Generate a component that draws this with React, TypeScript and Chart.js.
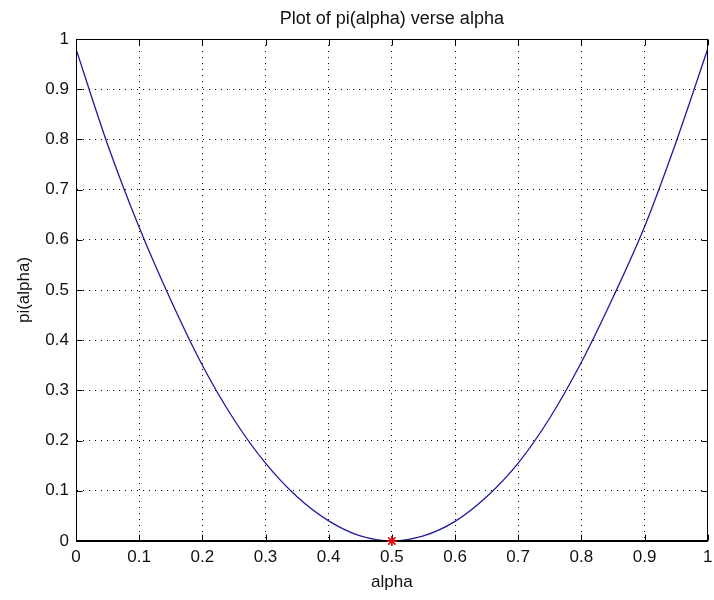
import { useEffect, useRef } from "react";
import { Chart, registerables } from "chart.js";

Chart.register(...registerables);

const TITLE = "Plot of pi(alpha) verse alpha";
const X_LABEL = "alpha";
const Y_LABEL = "pi(alpha)";

const alphaValues = [
  0, 0.05, 0.1, 0.15, 0.2, 0.25, 0.3, 0.35, 0.4, 0.45, 0.5,
  0.55, 0.6, 0.65, 0.7, 0.75, 0.8, 0.85, 0.9, 0.95, 1,
];
const piValues = [
  0.98, 0.79, 0.625, 0.48, 0.35, 0.242, 0.155, 0.088, 0.04, 0.01, 0,
  0.01, 0.039, 0.088, 0.155, 0.245, 0.356, 0.485, 0.626, 0.795, 0.98,
];
const minAlpha = [0.5];
const minPi = [0];

const FONT = '"Liberation Sans", Arial, sans-serif';

const fmt = (v: any) => {
  const n = Number(Number(v).toFixed(1));
  return String(n);
};

const matlabBox = {
  id: "matlabBox",
  afterDraw(chart: any) {
    const { ctx, chartArea } = chart;
    const { left, right, top, bottom } = chartArea;
    const xs = chart.scales.x;
    const ys = chart.scales.y;
    ctx.save();
    ctx.strokeStyle = "#000";
    ctx.lineWidth = 1;
    ctx.setLineDash([]);
    const L = Math.round(left) + 0.5;
    const R = Math.round(right) - 0.5;
    const T = Math.round(top) + 0.5;
    const B = Math.round(bottom) - 0.5;
    ctx.strokeRect(L, T, R - L, B - T);
    const tl = 6;
    ctx.beginPath();
    xs.ticks.forEach((t: any) => {
      const px = Math.round(xs.getPixelForValue(t.value)) + 0.5;
      ctx.moveTo(px, B);
      ctx.lineTo(px, B - tl);
      ctx.moveTo(px, T);
      ctx.lineTo(px, T + tl);
    });
    ys.ticks.forEach((t: any) => {
      const py = Math.round(ys.getPixelForValue(t.value)) + 0.5;
      ctx.moveTo(L, py);
      ctx.lineTo(L + tl, py);
      ctx.moveTo(R, py);
      ctx.lineTo(R - tl, py);
    });
    ctx.stroke();
    // re-draw the minimum marker on top of the axes box
    const meta = chart.getDatasetMeta(0);
    meta.data.forEach((pt: any) => pt.draw(ctx));
    ctx.fillStyle = "#111";
    ctx.font = `18px ${FONT}`;
    ctx.textAlign = "center";
    ctx.textBaseline = "middle";
    ctx.fillText(TITLE, (left + right) / 2, 19);
    ctx.restore();
  },
};

export default function App() {
  const ref = useRef<HTMLCanvasElement | null>(null);
  useEffect(() => {
    if (!ref.current) return;
    const curve = alphaValues.map((a, i) => ({ x: a, y: piValues[i] }));
    const star = minAlpha.map((a, i) => ({ x: a, y: minPi[i] }));
    const chart = new Chart(ref.current, {
      type: "scatter",
      data: {
        datasets: [
          {
            data: star,
            pointStyle: "star",
            pointRadius: 5,
            pointBorderColor: "#e01010",
            pointBackgroundColor: "#e01010",
            pointBorderWidth: 1.3,
            showLine: false,
            clip: false,
          },
          {
            data: curve,
            showLine: true,
            borderColor: "#1c1ca0",
            borderWidth: 1.3,
            pointRadius: 0,
            cubicInterpolationMode: "monotone",
            fill: false,
          },
        ],
      },
      options: {
        animation: false,
        responsive: true,
        maintainAspectRatio: false,
        layout: { padding: { top: 39, right: 2, left: 0, bottom: 0 } },
        plugins: {
          legend: { display: false },
          title: { display: false },
          tooltip: { enabled: false },
        },
        scales: {
          x: {
            type: "linear",
            min: 0,
            max: 1,
            ticks: {
              stepSize: 0.1,
              padding: 6,
              color: "#111",
              font: { family: FONT, size: 17 },
              maxRotation: 0,
              callback: fmt,
            },
            grid: { color: "#000", lineWidth: 1, drawTicks: false },
            border: { display: true, color: "#000", width: 1, dash: [1, 5] },
            title: {
              display: true,
              text: X_LABEL,
              color: "#111",
              font: { family: FONT, size: 17 },
              padding: { top: 0, bottom: 7 },
            },
            afterFit(scale: any) {
              scale.height = 59;
              scale.paddingLeft = 0;
              scale.paddingRight = 0;
            },
          },
          y: {
            type: "linear",
            min: 0,
            max: 1,
            ticks: {
              stepSize: 0.1,
              padding: 7,
              color: "#111",
              font: { family: FONT, size: 17 },
              callback: fmt,
            },
            grid: { color: "#000", lineWidth: 1, drawTicks: false },
            border: { display: true, color: "#000", width: 1, dash: [1, 5] },
            title: {
              display: true,
              text: Y_LABEL,
              color: "#111",
              font: { family: FONT, size: 17 },
              padding: { top: 14, bottom: 0 },
            },
            afterFit(scale: any) {
              scale.width = 76;
              scale.paddingTop = 0;
              scale.paddingBottom = 0;
            },
          },
        },
      },
      plugins: [matlabBox],
    });
    return () => chart.destroy();
  }, []);
  return (
    <div style={{ position: "fixed", left: 0, top: 0, width: 714, height: 600, background: "#fff" }}>
      <canvas ref={ref} />
    </div>
  );
}
